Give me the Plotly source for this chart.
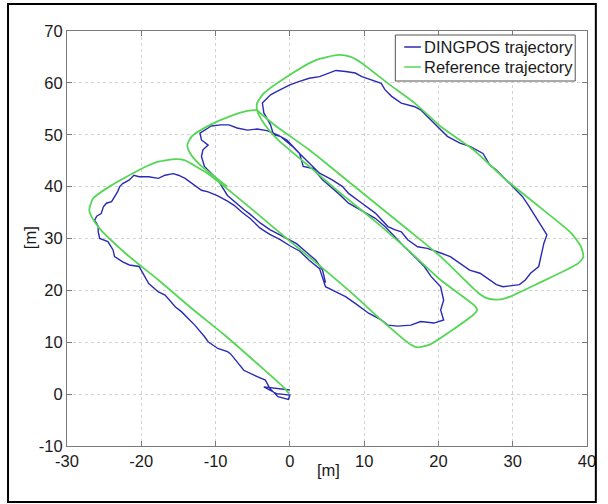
import plotly.graph_objects as go

# Reference trajectory (green) [m]
ref_x = [-0.1, -0.9, -4.4, -8.8, -13.2, -17.7, -22.1, -25.6, -26.7, -27.0, -26.8, -26.5, -24.3, -19.9, -17.7,
         -15.4, -14.2, -12.3, -11.0, -8.8, -4.4, 0.0, 4.4, 8.8, 11.9, 16.3, 17.2, 18.9, 24.7, 25.2, 24.9,
         20.3, 15.9, 11.5, 7.1, 2.6, -1.8, -3.5, -4.4,
         -4.4, -3.5, -0.4, 3.5, 6.6, 8.2, 9.7, 13.2, 16.8, 20.3, 24.7, 29.1, 33.5, 37.9, 39.2, 39.5, 38.8,
         33.5, 29.1, 27.8, 26.5, 25.3, 20.3, 15.9, 11.5, 7.1, 2.6, -1.8, -4.0, -4.4,
         -5.7, -8.0, -10.6, -13.2, -13.8, -13.4, -12.3, -8.4]
ref_y = [0.1, 1.4, 5.9, 11.4, 16.5, 22.0, 27.1, 31.9, 34.2, 35.5, 36.7, 37.7, 40.0, 43.5, 44.8,
         45.3, 45.1, 43.6, 42.5, 40.0, 34.8, 29.5, 24.3, 18.9, 14.8, 9.5, 9.0, 9.6, 15.3, 16.2, 17.0,
         22.0, 27.8, 33.3, 38.4, 43.9, 49.3, 52.2, 54.7,
         56.1, 58.0, 61.2, 64.4, 65.4, 65.0, 63.8, 59.9, 56.1, 51.6, 47.1, 41.3, 36.2, 31.0, 28.4, 26.5, 25.2,
         21.4, 18.5, 18.2, 18.5, 19.6, 26.5, 31.7, 36.8, 41.9, 47.1, 51.6, 54.2, 54.7,
         54.6, 53.6, 52.0, 49.7, 48.0, 46.4, 44.5, 40.0]

# DINGPOS trajectory (blue) [m]
din_x = [0.0, -1.8, -3.5, -1.8, 0.0, -0.2, -1.6, -2.7, -3.3,
         -4.9, -6.2, -8.0, -8.4, -9.7, -11.0, -11.5, -12.8, -14.6, -15.4, -16.8, -17.7, -19.0, -20.3, -21.6,
         -22.5, -23.6, -23.8, -24.5, -25.6, -25.8, -25.8, -26.0, -26.3, -26.0, -25.4, -25.1, -24.7, -24.0,
         -23.6, -23.2, -22.9, -22.5, -21.6, -21.0, -20.3, -19.0, -17.7, -16.8, -15.7, -15.0, -14.1, -13.2,
         -12.4, -11.9, -11.0, -9.7, -8.4, -7.5, -6.4, -5.3, -4.0, -2.7, -1.3, 0.0, 1.3, 2.6, 4.0, 4.4, 4.8,
         6.2, 7.5, 8.8, 10.6, 12.3, 13.2, 14.5, 16.3, 17.6, 19.4, 20.7, 20.3, 20.7, 20.3,
         19.0, 18.1, 16.8, 15.4, 14.1, 12.8, 11.5, 9.3, 7.9, 6.6, 4.4, 3.1, 1.8, 1.3, 0.4, -0.4, -1.3, -2.2,
         -2.6, -3.5, -3.7, -3.3, -2.6, -1.8, -0.9, 0.0, 1.3, 2.6, 4.0, 5.3, 6.2, 7.5, 8.8, 9.7, 11.0, 12.3,
         12.8, 13.7, 15.0, 16.8, 17.6, 19.4, 20.3, 21.2, 22.9, 24.3, 26.0, 26.9, 27.8, 29.1, 30.4, 31.3,
         32.2, 33.1, 33.9, 34.6, 34.2, 33.9, 33.7, 33.5, 32.4, 31.7, 30.9, 30.0, 28.7, 27.8, 26.9, 25.6,
         24.2, 22.9, 21.6, 20.3, 18.5, 17.2, 15.9, 15.0, 14.1, 13.2, 12.3, 11.5, 9.7, 7.9, 7.1, 5.7, 4.0,
         2.6, 1.5, 0.4, -1.3, -2.2,
         -3.1, -4.4, -5.7, -7.1, -8.2, -9.3, -10.6, -11.0, -12.1, -11.9, -11.0, -11.7, -11.9, -11.5, -10.6,
         -9.7, -8.4, -7.1, -6.2, -5.3, -4.0, -2.7, -0.9, 0.9, 2.2, 3.5, 4.4, 4.8]
din_y = [0.8, 1.1, 1.4, 0.1, -0.2, -1.0, -0.5, 1.1, 2.7,
         3.7, 4.6, 7.8, 8.2, 8.8, 10.1, 11.1, 13.3, 15.9, 16.8, 19.1, 19.7, 21.3, 24.6, 24.9,
         25.5, 26.5, 27.8, 29.4, 30.0, 31.3, 32.3, 32.9, 33.5, 34.3, 34.8, 36.1, 36.8, 37.1,
         38.0, 39.0, 40.0, 40.6, 41.3, 42.2, 41.9, 41.9, 41.6, 42.2, 42.5, 42.2, 41.6, 40.6,
         39.7, 39.3, 39.0, 38.2, 37.2, 36.4, 35.0, 33.8, 32.0, 30.8, 29.8, 28.6, 27.6, 25.8, 24.2, 22.6, 20.7,
         19.7, 18.8, 17.5, 15.6, 14.3, 13.3, 13.1, 13.3, 14.0, 13.7, 14.3, 16.2, 18.1, 20.7,
         22.7, 24.6, 26.5, 28.4, 30.4, 32.3, 33.9, 35.6, 36.8, 38.6, 41.3, 43.5, 43.9, 46.4, 47.7, 49.0, 49.7, 50.0,
         51.9, 54.2, 56.1, 56.7, 57.7, 58.3, 59.0, 59.6, 60.3, 60.9, 61.2, 61.9, 62.4, 62.2, 61.9, 61.2, 60.6, 59.9,
         58.7, 57.4, 56.1, 55.4, 54.8, 52.2, 51.0, 49.7, 48.4, 47.7, 46.4, 44.2, 43.2, 41.3, 39.4, 38.1,
         36.2, 34.2, 32.3, 30.7, 29.1, 27.2, 25.9, 24.6, 23.3, 22.0, 21.1, 20.9, 20.7, 21.1, 22.0, 23.3,
         23.9, 25.2, 26.5, 27.2, 28.1, 28.4, 29.7, 31.3, 31.7, 32.3, 33.6, 34.9, 36.8, 38.7, 40.0, 41.3, 42.6,
         44.5, 46.1, 47.7, 49.7, 50.3,
         50.8, 51.1, 50.9, 51.3, 51.9, 51.9, 51.7, 51.3, 50.3, 49.0, 48.0, 47.1, 45.8, 43.9, 42.6,
         41.3, 38.3, 36.6, 35.6, 34.6, 33.0, 31.7, 30.4, 29.0, 27.4, 25.8, 23.9, 21.5]

x_ticks = [-30, -20, -10, 0, 10, 20, 30, 40]
y_ticks = [-10, 0, 10, 20, 30, 40, 50, 60, 70]
series_names = ["DINGPOS trajectory", "Reference trajectory"]
series_colors = ["#2a2ab4", "#55d655"]

FONT = "Liberation Sans, Arial, sans-serif"
TXT = "#1a1a1a"
FS = 16.5

fig = go.Figure()
fig.add_trace(go.Scatter(x=din_x, y=din_y, mode="lines", name=series_names[0], showlegend=False,
                         line=dict(color=series_colors[0], width=1.4)))
fig.add_trace(go.Scatter(x=ref_x, y=ref_y, mode="lines", name=series_names[1], showlegend=False,
                         line=dict(color=series_colors[1], width=1.8, shape="spline", smoothing=0.6)))

axis_common = dict(showgrid=True, gridcolor="#d2d2d2", griddash="dot", gridwidth=1,
                   showline=True, linecolor="#7a7a7a", linewidth=1, mirror="ticks",
                   ticks="inside", ticklen=5, tickcolor="#7a7a7a", zeroline=False,
                   tickfont=dict(family=FONT, size=FS, color=TXT))

# plot area in pixels: x 67..596, y 31..446
PW, PH, L, T = 529.0, 415.0, 67.0, 31.0
def px(x):
    return (x - L) / PW
def py(y):
    return (T + PH - y) / PH

shapes = [dict(type="rect", xref="paper", yref="paper", x0=px(7), x1=px(605), y0=py(502), y1=py(4),
               line=dict(color="black", width=2), fillcolor="rgba(0,0,0,0)", layer="above"),
          # legend box
          dict(type="rect", xref="paper", yref="paper", x0=px(401), x1=px(584), y0=py(81), y1=py(35),
               line=dict(color="#555555", width=1), fillcolor="white", layer="above")]
annotations = [
    dict(text="[m]", xref="paper", yref="paper", x=0.503, y=-0.058, showarrow=False,
         xanchor="center", yanchor="middle", font=dict(family=FONT, size=FS, color=TXT)),
    dict(text="[m]", xref="paper", yref="paper", x=-0.071, y=0.501, showarrow=False, textangle=-90,
         xanchor="center", yanchor="middle", font=dict(family=FONT, size=FS, color=TXT)),
]
row_y = [47, 67]
for name, color, ry in zip(series_names, series_colors, row_y):
    shapes.append(dict(type="line", xref="paper", yref="paper", x0=px(410), x1=px(427), y0=py(ry), y1=py(ry),
                       line=dict(color=color, width=1.5), layer="above"))
    annotations.append(dict(text=name, xref="paper", yref="paper", x=px(428), y=py(ry), showarrow=False,
                            xanchor="left", yanchor="middle", font=dict(family=FONT, size=FS, color=TXT)))

fig.update_layout(
    width=608, height=504,
    margin=dict(l=67, r=12, t=31, b=58),
    paper_bgcolor="white", plot_bgcolor="white",
    showlegend=False,
    xaxis=dict(range=[-30, 40], tickvals=x_ticks, ticktext=[str(v) for v in x_ticks], **axis_common),
    yaxis=dict(range=[-10, 70], tickvals=y_ticks, ticktext=[str(v) for v in y_ticks], **axis_common),
    annotations=annotations,
    shapes=shapes,
)

fig.write_html("out.html", config={"displayModeBar": False},
               post_script="document.body.style.margin='0';document.body.style.overflow='hidden';")
